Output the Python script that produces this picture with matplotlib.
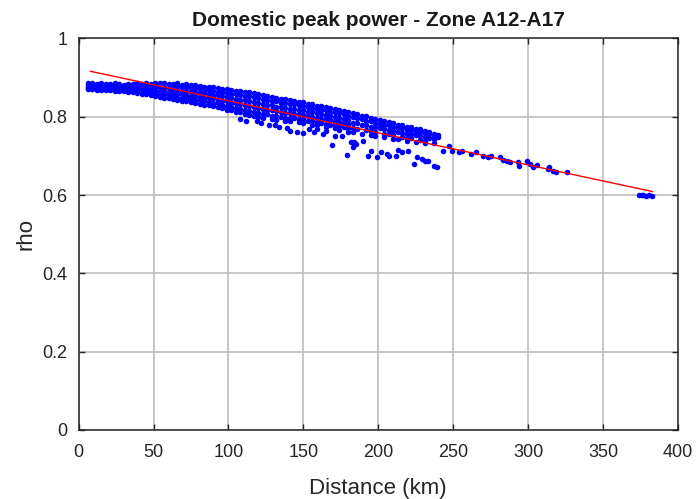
import numpy as np
import matplotlib
matplotlib.use("Agg")
import matplotlib.pyplot as plt

plt.rcParams['font.family'] = ['Liberation Sans', 'DejaVu Sans']

nan = np.nan

# dense band, segment A (rows = spread of rho at each distance)
band_a_km = [6, 9, 12, 15, 18, 21, 24, 27, 30, 33, 36, 39, 42, 45, 48, 51, 54, 57, 60]
band_a_rho = [
    [0.885, 0.886, 0.883, 0.885, 0.884, 0.883, 0.885, 0.884, 0.882, 0.884, 0.883, 0.885, 0.884, 0.886, 0.884, 0.885, 0.886, 0.885, 0.883],
    [0.881, 0.880, 0.879, 0.882, 0.879, 0.878, 0.880, 0.879, 0.878, 0.879, 0.877, 0.878, 0.877, 0.879, 0.876, 0.877, 0.877, 0.876, 0.874],
    [0.877, 0.876, 0.874, 0.876, 0.875, 0.874, 0.875, 0.873, 0.872, 0.873, 0.871, 0.872, 0.870, 0.871, 0.868, 0.869, 0.867, 0.866, 0.864],
    [0.874, 0.872, 0.872, 0.872, 0.871, 0.870, 0.871, 0.870, 0.868, 0.868, 0.867, 0.866, 0.865, 0.864, 0.862, 0.860, 0.859, 0.857, 0.855],
    [0.871, 0.870, 0.869, 0.869, 0.868, 0.868, 0.867, 0.866, 0.865, 0.864, 0.862, 0.861, 0.859, 0.858, 0.855, 0.853, 0.851, 0.849, 0.847],
]

band_b_km = [63, 66, 69, 72, 75, 78, 81, 84, 87, 90, 93, 96, 99, 102, 105, 108, 111, 114, 117, 120]
band_b_rho = [
    [0.884, 0.885, 0.882, 0.883, 0.881, 0.880, 0.879, 0.877, 0.876, 0.875, 0.873, 0.872, 0.870, 0.869, 0.867, 0.866, 0.864, 0.862, 0.861, 0.858],
    [0.877, 0.878, 0.876, 0.875, 0.873, 0.873, 0.871, 0.869, 0.868, 0.867, 0.864, 0.864, 0.861, 0.859, 0.858, 0.856, 0.854, 0.852, 0.851, 0.847],
    [0.868, 0.869, 0.866, 0.866, 0.864, 0.862, 0.861, 0.860, 0.858, 0.856, 0.855, 0.852, 0.850, 0.849, 0.845, 0.844, 0.843, 0.839, 0.838, 0.836],
    [0.860, 0.859, 0.857, 0.856, 0.854, 0.853, 0.851, 0.849, 0.847, 0.847, 0.843, 0.841, 0.839, 0.836, 0.834, 0.833, 0.829, 0.828, 0.825, 0.822],
    [0.851, 0.849, 0.847, 0.848, 0.845, 0.843, 0.842, 0.839, 0.837, 0.835, 0.834, 0.830, 0.827, 0.825, 0.823, 0.820, 0.818, 0.814, 0.813, 0.810],
    [0.845, 0.843, 0.841, 0.839, 0.837, 0.836, 0.833, 0.831, 0.830, 0.827, 0.824, 0.822, 0.818, 0.816, 0.812, 0.811, 0.807, 0.805, 0.802, 0.800],
]

band_c_km = [123, 126, 129, 132, 135, 138, 141, 144, 147, 150, 153, 156, 159, 162, 165, 168, 171, 174, 177, 180]
band_c_rho = [
    [0.855, 0.854, 0.850, 0.849, 0.846, 0.845, 0.842, 0.841, 0.838, 0.837, 0.833, 0.832, 0.828, 0.827, 0.824, 0.823, 0.819, 0.818, 0.814, 0.812],
    [0.845, 0.844, 0.841, 0.839, 0.836, 0.835, 0.833, 0.832, 0.829, 0.827, 0.825, 0.822, 0.820, 0.818, 0.816, 0.813, 0.811, 0.809, 0.806, 0.803],
    [0.833, 0.831, 0.829, 0.826, 0.824, 0.823, 0.821, 0.819, 0.818, 0.816, 0.813, 0.811, 0.809, 0.807, 0.805, 0.803, 0.800, 0.798, 0.795, 0.792],
    [0.820, 0.818, 0.816, 0.814, 0.812, 0.810, 0.809, 0.808, 0.806, 0.804, 0.802, 0.800, 0.797, 0.795, 0.793, 0.791, 0.789, 0.787, 0.784, 0.782],
    [0.808, 0.806, 0.803, 0.801, 0.799, 0.798, 0.797, 0.796, 0.795, 0.793, 0.790, 0.788, 0.786, 0.784, 0.782, 0.780, 0.778, 0.776, 0.773, 0.771],
    [0.798, nan, 0.794, 0.791, nan, 0.788, 0.788, nan, 0.786, 0.783, nan, 0.779, 0.778, nan, 0.774, nan, 0.770, 0.767, nan, 0.762],
]

band_d_km = [183, 186, 189, 192, 195, 198, 201, 204, 207, 210, 213, 216, 219, 222, 225, 228, 231, 234, 237, 240]
band_d_rho = [
    [0.809, 0.807, 0.803, 0.801, 0.797, 0.795, 0.791, 0.789, 0.786, 0.784, 0.780, 0.778, 0.774, 0.773, 0.769, 0.768, 0.764, 0.762, 0.757, 0.754],
    [0.799, 0.796, 0.793, 0.790, 0.788, 0.785, 0.782, 0.780, 0.778, 0.775, 0.772, 0.770, 0.767, 0.765, 0.762, 0.760, 0.758, 0.755, 0.751, 0.748],
    [0.785, 0.783, 0.780, 0.778, 0.775, 0.773, 0.771, 0.768, 0.767, 0.764, 0.762, 0.759, 0.757, 0.755, 0.753, 0.750, 0.748, 0.746, 0.743, nan],
    [0.772, 0.769, nan, 0.765, 0.763, 0.760, nan, 0.757, 0.755, 0.753, nan, 0.749, 0.746, 0.745, nan, 0.741, 0.739, nan, 0.734, nan],
    [0.761, nan, 0.757, nan, 0.753, 0.750, nan, 0.747, nan, 0.744, 0.743, nan, 0.739, nan, 0.736, nan, 0.732, nan, nan, nan],
]

# sparse points below the band
low_km = [108, 112, 119, 122, 127, 131, 134, 139, 141, 146,
          150, 154, 157, 159, 163, 165, 169, 171, 176, 179,
          182, 183, 184, 185, 190, 193, 195, 199, 202, 206,
          207, 212, 213, 216, 220, 224, 226, 229, 231, 233,
          237, 239]
low_rho = [0.795, 0.790, 0.788, 0.783, 0.780, 0.778, 0.775, 0.772, 0.764, 0.761,
           0.758, 0.769, 0.762, 0.769, 0.755, 0.764, 0.728, 0.752, 0.751, 0.703,
           0.735, 0.723, 0.736, 0.731, 0.738, 0.700, 0.713, 0.697, 0.710, 0.705,
           0.700, 0.700, 0.715, 0.710, 0.712, 0.680, 0.697, 0.692, 0.687, 0.687,
           0.674, 0.672]

# long-distance tail
tail_km = [243, 247, 249, 254, 256, 262, 265, 270, 273, 275, 281, 283, 286,
           288, 293, 294, 299, 301, 303, 306, 313, 314, 317, 319, 326]
tail_rho = [0.713, 0.726, 0.713, 0.710, 0.713, 0.705, 0.710, 0.700, 0.697, 0.700,
            0.697, 0.690, 0.687, 0.684, 0.685, 0.674, 0.687, 0.679, 0.672, 0.677,
            0.667, 0.672, 0.662, 0.659, 0.659]

far_km = [374, 376, 377, 379, 381, 383]
far_rho = [0.601, 0.599, 0.600, 0.598, 0.599, 0.597]

# linear fit
fit_km = [8, 383]
fit_rho = [0.916, 0.609]

fig = plt.figure(figsize=(6.97, 4.99), dpi=100)
ax = fig.add_axes([0.1128, 0.1383, 0.8597, 0.7847])

dot = dict(linestyle='none', marker='o', markersize=4.0, color='#0000ff',
           markeredgewidth=0)
for km, rows in [(band_a_km, band_a_rho), (band_b_km, band_b_rho),
                 (band_c_km, band_c_rho), (band_d_km, band_d_rho)]:
    xs = np.tile(km, len(rows))
    ys = np.ravel(rows)
    ax.plot(xs, ys, **dot)
ax.plot(low_km, low_rho, **dot)
ax.plot(tail_km, tail_rho, **dot)
ax.plot(far_km, far_rho, **dot)

ax.plot(fit_km, fit_rho, color='red', linewidth=1.0)

ax.set_xlim(0, 400)
ax.set_ylim(0, 1)
ax.set_xticks([0, 50, 100, 150, 200, 250, 300, 350, 400])
ax.set_yticks([0, 0.2, 0.4, 0.6, 0.8, 1])
ax.set_yticklabels(['0', '0.2', '0.4', '0.6', '0.8', '1'])
ax.grid(True, color='#bdbdbd', linewidth=1.2)
ax.set_axisbelow(True)
ax.tick_params(direction='in', length=4, width=1, top=True, right=True,
               labelsize=13, colors='#262626')
ax.tick_params(axis='x', pad=10)
ax.tick_params(axis='y', pad=8)
for s in ax.spines.values():
    s.set_linewidth(1.1)
    s.set_color('#262626')

ax.set_title('Domestic peak power - Zone A12-A17', fontsize=15,
             fontweight='bold', color='#1a1a1a', pad=9)
ax.set_xlabel('Distance (km)', fontsize=16, color='#262626', labelpad=12)
ax.set_ylabel('rho', fontsize=16, color='#262626', labelpad=4)

fig.savefig('out.png', dpi=100)
